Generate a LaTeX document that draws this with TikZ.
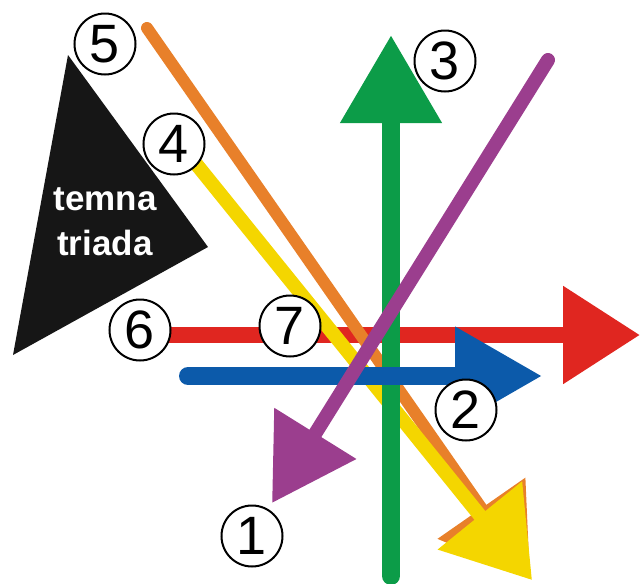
\documentclass[tikz,border=0pt]{standalone}
\usepackage{fontspec}
\setmainfont{Liberation Sans}
\usetikzlibrary{arrows.meta}
\definecolor{rayorange}{RGB}{232,128,42}
\definecolor{rayyellow}{RGB}{244,214,0}
\definecolor{raygreen}{RGB}{12,156,72}
\definecolor{raypurple}{RGB}{155,62,142}
\definecolor{rayred}{RGB}{224,38,32}
\definecolor{rayblue}{RGB}{12,90,170}
\definecolor{darktriad}{RGB}{22,22,22}

\begin{document}
\begin{tikzpicture}[
    x=1pt, y=-1pt,
    ray/.style={line cap=round},
    numlabel/.style={circle, draw=black, line width=2pt, fill=white,
        minimum size=61pt, inner sep=0pt,
        font=\fontsize{54}{54}\selectfont},
]

\useasboundingbox (0,0) rectangle (641,584);

%--- Coordinates (pixels, y downwards) ---
\coordinate (orangeS) at (147,28);
\coordinate (orangeT) at (530,578);
\coordinate (yellowS) at (197,165);
\coordinate (yellowT) at (532,580);
\coordinate (greenS)  at (391,576);
\coordinate (greenT)  at (391,35);
\coordinate (purpleS) at (548,60);
\coordinate (purpleT) at (272,503);
\coordinate (redS)    at (170,335);
\coordinate (redT)    at (640,335);
\coordinate (blueS)   at (188,376);
\coordinate (blueT)   at (542,376);

%============================================================
% Dark triad
%============================================================
\fill[darktriad] (68,55) -- (208,247) -- (13,355) -- cycle;
\node[text=white, align=center, font=\bfseries\fontsize{35}{45}\selectfont]
    (triad) at (105,222) {temna\\triada};

%============================================================
% Rays
%============================================================
\draw[ray, rayred, line width=16pt,
    -{Triangle[length=77pt, width=94pt]}] (redS) -- (redT);
\draw[ray, rayorange, line width=12pt,
    -{Triangle[length=85pt, width=104pt]}] (orangeS) -- (orangeT);
\draw[ray, rayyellow, line width=14pt,
    -{Triangle[length=83pt, width=105pt]}] (yellowS) -- (yellowT);
\draw[ray, raygreen, line width=18pt,
    -{Triangle[length=88pt, width=97pt]}] (greenS) -- (greenT);
\draw[ray, rayblue, line width=18pt,
    -{Triangle[length=87pt, width=94pt]}] (blueS) -- (blueT);
\draw[ray, raypurple, line width=14pt,
    -{Triangle[length=82pt, width=93pt]}] (purpleS) -- (purpleT);

%============================================================
% Numbered labels
%============================================================
\node[numlabel] (n1) at (252,536) {1};
\node[numlabel] (n2) at (466,410) {2};
\node[numlabel] (n3) at (445,61)  {3};
\node[numlabel] (n4) at (174,144) {4};
\node[numlabel] (n5) at (105,44)  {5};
\node[numlabel] (n6) at (140,330) {6};
\node[numlabel] (n7) at (290,326) {7};

\end{tikzpicture}
\end{document}
